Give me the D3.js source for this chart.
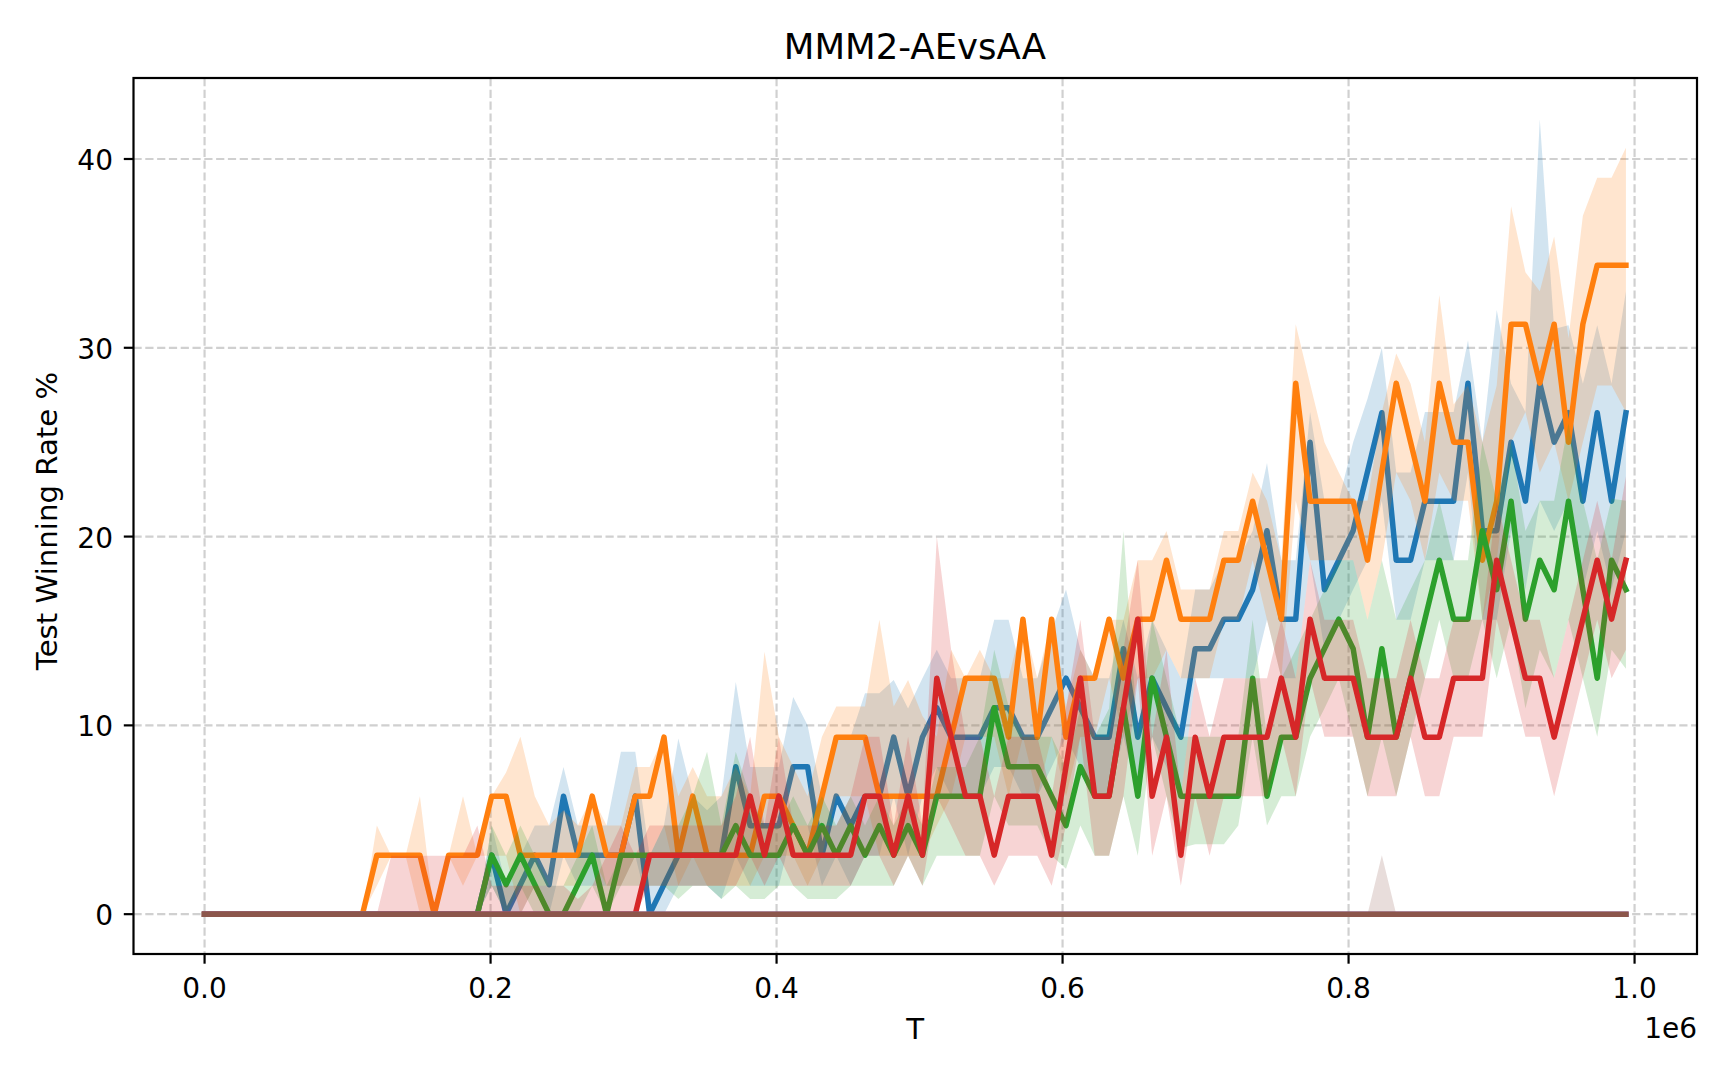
<!DOCTYPE html>
<html>
<head>
<meta charset="utf-8">
<script src="https://cdn.jsdelivr.net/npm/d3@7"></script>
<style>
  html, body { margin: 0; padding: 0; background: #ffffff; }
  svg { display: block; font-family: "DejaVu Sans", sans-serif; }
</style>
</head>
<body>
<svg id="chart" width="1728" height="1080"></svg>
<script>
// ---------------- DATA ----------------
const title = "MMM2-AEvsAA";
const xLabel = "T";
const yLabel = "Test Winning Rate %";
const xOffsetText = "1e6";
const xTickValues = [0, 200000, 400000, 600000, 800000, 1000000];
const xTickLabels = ["0.0", "0.2", "0.4", "0.6", "0.8", "1.0"];
const yTickValues = [0, 10, 20, 30, 40];
const yTickLabels = ["0", "10", "20", "30", "40"];

// evaluation timesteps (one test every ~10k steps)
const steps = d3.range(100).map(i => i * 10040);

const blueMean = [
  0,0,0,0,0,0,0,0,0,0,
  0,0,0,0,0,0,0,0,0,0,
  3.125,0,1.5625,3.125,1.5625,6.25,3.125,3.125,3.125,3.125,
  6.25,0,1.5625,3.125,3.125,3.125,3.125,7.8125,4.6875,4.6875,
  4.6875,7.8125,7.8125,3.125,6.25,4.6875,6.25,6.25,9.375,6.25,
  9.375,10.9375,9.375,9.375,9.375,10.9375,10.9375,9.375,9.375,10.9375,
  12.5,10.9375,9.375,9.375,14.0625,9.375,12.5,10.9375,9.375,14.0625,
  14.0625,15.625,15.625,17.1875,20.3125,15.625,15.625,25,17.1875,18.75,
  20.3125,23.4375,26.5625,18.75,18.75,21.875,21.875,21.875,28.125,20.3125,
  20.3125,25,21.875,28.125,25,26.5625,21.875,26.5625,21.875,26.5625
];
const blueHigh = [
  0,0,0,0,0,0,0,0,0,0,
  0,0,0,0,0,0,0,0,0,0,
  4.7,1.5,3.1,4.7,4.7,7.8,4.7,4.7,4.7,8.6,
  8.6,3.1,4.7,9.3,6.25,5.5,6.25,12.3,7.8,7.8,
  7.8,11.5,10,6.25,9.4,9.4,11.7,11.7,12.4,10.9,
  12.5,14,12.5,12.5,12.5,15.6,15.6,12.5,12.5,15,
  17.2,14,12.5,12.5,15.6,12.5,15.6,14,12.5,17.2,
  17.2,18.75,18.75,20.3,23.9,18.75,18.75,26.6,21.9,21.9,
  25,27.3,30,23.4,23.4,26.6,26.6,26.6,30.4,25,
  32,28.1,26.6,42.1,31,31.2,28.1,31.2,28.1,33
];
const blueLow = [
  0,0,0,0,0,0,0,0,0,0,
  0,0,0,0,0,0,0,0,0,0,
  1.5,0,0,1.5,0,3.1,1.5,1.5,1.5,1.5,
  3.1,0,0,1.5,1.5,1.5,0.8,3.1,1.5,1.5,
  1.5,4.7,4.7,1.5,3.1,1.5,3.1,3.1,6.25,3.1,
  6.25,7.8,6.25,6.25,6.25,7.8,7.8,6.25,6.25,7.8,
  9.4,7.8,6.25,6.25,9.4,6.25,9.4,7.8,6.25,12.5,
  12.5,12.5,12.5,12.5,15.6,12.5,12.5,18.75,14,15.6,
  17.2,18.75,21.9,15.6,15.6,18.75,18.75,18.75,23.4,15.6,
  15.6,20.3,17.2,21.9,20.3,21.9,17.2,20.3,17.2,20.3
];

const orangeMean = [
  0,0,0,0,0,0,0,0,0,0,
  0,0,3.125,3.125,3.125,3.125,0,3.125,3.125,3.125,
  6.25,6.25,3.125,3.125,3.125,3.125,3.125,6.25,3.125,3.125,
  6.25,6.25,9.375,3.125,6.25,3.125,3.125,3.125,3.125,6.25,
  6.25,4.6875,3.125,6.25,9.375,9.375,9.375,6.25,6.25,6.25,
  6.25,6.25,9.375,12.5,12.5,12.5,9.375,15.625,9.375,15.625,
  9.375,12.5,12.5,15.625,12.5,15.625,15.625,18.75,15.625,15.625,
  15.625,18.75,18.75,21.875,18.75,15.625,28.125,21.875,21.875,21.875,
  21.875,18.75,23.4375,28.125,25,21.875,28.125,25,25,18.75,
  21.875,31.25,31.25,28.125,31.25,25,31.25,34.375,34.375,34.375
];
const orangeHigh = [
  0,0,0,0,0,0,0,0,0,0,
  0,0,4.7,3.1,3.1,6.25,0,3.1,6.25,3.1,
  6.25,7.5,9.4,6.25,4.7,5.5,4.7,6.25,4.7,4.7,
  7.8,7.8,9.4,6.25,7.8,6.25,6.25,7.8,6.25,13.9,
  9.4,7.8,6.25,9.4,11,11,11,15.6,11,12.4,
  10.5,9.4,14,12.5,14,12.5,12.5,15.6,12.5,15.6,
  11,14,12.5,15.6,15.6,18.75,18.75,20.3,17.2,17.2,
  17.2,20.3,20.3,23.4,21.9,18.75,31.25,28.1,25,23.4,
  21.9,21.9,26.6,29.7,28.1,25,32.8,27,28,25,
  28,37.5,34,33,35.9,30.5,37,39,39,40.6
];
const orangeLow = [
  0,0,0,0,0,0,0,0,0,0,
  0,0,1.5,3.1,3.1,0,0,3.1,1.5,3.1,
  3.1,3.1,0,1.5,1.5,1.5,1.5,3.1,1.5,1.5,
  3.1,3.1,4.7,1.5,3.1,1.5,1.5,1.5,1.5,3.1,
  3.1,3.1,1.5,3.1,6.25,6.25,6.25,3.1,3.1,3.1,
  3.1,4.7,6.25,9.4,9.4,9.4,6.25,9.4,6.25,9.4,
  6.25,9.4,9.4,12.5,9.4,12.5,12.5,14,12.5,12.5,
  12.5,15.6,15.6,18.75,15.6,12.5,21.9,18.75,18.75,18.75,
  18.75,15.6,18.75,23.4,21.9,18.75,23.4,21.9,21.9,15.6,
  18.75,25,26.6,23.4,25,21.9,25,28,28,26.6
];

const greenMean = [
  0,0,0,0,0,0,0,0,0,0,
  0,0,0,0,0,0,0,0,0,0,
  3.125,1.5625,3.125,1.5625,0,0,1.5625,3.125,0,3.125,
  3.125,3.125,3.125,3.125,3.125,3.125,3.125,4.6875,3.125,3.125,
  3.125,4.6875,3.125,4.6875,3.125,4.6875,3.125,4.6875,3.125,4.6875,
  3.125,6.25,6.25,6.25,6.25,10.9375,7.8125,7.8125,7.8125,6.25,
  4.6875,7.8125,6.25,6.25,10.9375,6.25,12.5,9.375,6.25,6.25,
  6.25,6.25,6.25,12.5,6.25,9.375,9.375,12.5,14.0625,15.625,
  14.0625,9.375,14.0625,9.375,12.5,15.625,18.75,15.625,15.625,20.3125,
  17.1875,21.875,15.625,18.75,17.1875,21.875,17.1875,12.5,18.75,17.1875
];
const greenHigh = [
  0,0,0,0,0,0,0,0,0,0,
  0,0,0,0,0,0,0,0,0,0,
  4.7,3.1,4.7,3.1,1.5,1.5,3.1,4.7,1.5,3.1,
  3.1,3.1,4.7,4.7,6.25,8.6,4.7,8.6,6.25,4.7,
  4.7,6.25,4.7,6.25,4.7,6.25,4.7,6.25,4.7,6.25,
  4.7,7.8,7.8,7.8,9.4,14,11,9.4,9.4,9.4,
  7.8,10.9,9.4,10.9,20.3,9.4,15.6,12.5,9.4,9.4,
  9.4,9.4,9.4,15.6,9.4,12.5,14,15.6,17.2,18.75,
  18.75,15.6,18.75,15.6,17.2,18.75,21.9,18.75,18.75,25,
  21.9,25,20.3,21.9,21.9,26,21.9,18.75,22,21.9
];
const greenLow = [
  0,0,0,0,0,0,0,0,0,0,
  0,0,0,0,0,0,0,0,0,0,
  1.5,0,1.5,0,0,0,0,1.5,0,1.5,
  1.5,1.5,1.5,0.8,1.5,1.5,0.8,1.5,0.8,0.8,
  1.5,1.5,0.8,0.8,0.8,1.5,1.5,1.5,1.5,3.1,
  1.5,3.1,3.1,3.1,3.1,6.25,4.7,4.7,4.7,3.1,
  2.4,4.7,3.1,3.1,6.25,3.1,9.4,6.25,3.5,3.7,
  3.7,3.7,4.7,9.4,4.7,6.25,6.25,9.4,10.9,12.5,
  9.4,6.25,9.4,6.25,9.4,12.5,15.6,12.5,12.5,15.6,
  12.5,15.6,10.9,14,12.5,15.6,12.5,9.4,14,13
];

const redMean = [
  0,0,0,0,0,0,0,0,0,0,
  0,0,0,0,0,0,0,0,0,0,
  0,0,0,0,0,0,0,0,0,0,
  0,3.125,3.125,3.125,3.125,3.125,3.125,3.125,6.25,3.125,
  6.25,3.125,3.125,3.125,3.125,3.125,6.25,6.25,3.125,6.25,
  3.125,12.5,9.375,6.25,6.25,3.125,6.25,6.25,6.25,3.125,
  7.8125,12.5,6.25,6.25,10.9375,15.625,6.25,9.375,3.125,9.375,
  6.25,9.375,9.375,9.375,9.375,12.5,9.375,15.625,12.5,12.5,
  12.5,9.375,9.375,9.375,12.5,9.375,9.375,12.5,12.5,12.5,
  18.75,15.625,12.5,12.5,9.375,12.5,15.625,18.75,15.625,18.75
];
const redHigh = [
  0,0,0,0,0,0,0,0,0,0,
  0,0,0,3.1,3.1,3.1,3.1,3.1,3.1,4.7,
  1.5,1.5,1.5,1.5,1.5,1.5,0.8,1.5,3.1,4.7,
  3.1,4.7,4.7,4.7,4.7,4.7,4.7,6.25,9.4,4.7,
  9.4,4.7,4.7,4.7,4.7,6.25,9.4,9.4,4.7,9.4,
  4.7,20,14,9.4,9.4,6.25,9.4,9.4,9.4,6.25,
  10.9,15.6,9.4,9.4,14,18.75,9.4,14,6.25,12.5,
  9.4,12.5,12.5,12.5,12.5,15.6,12.5,18.75,15.6,15.6,
  15.6,12.5,12.5,12.5,15.6,12.5,12.5,15.6,15.6,15.6,
  21.9,18.75,15.6,15.6,12.5,15.6,18.75,21.9,18.75,23.2
];
const redLow = [
  0,0,0,0,0,0,0,0,0,0,
  0,0,0,0,0,0,0,0,0,0,
  0,0,0,0,0,0,0,0,0,0,
  0,1.5,1.5,1.5,1.5,1.5,1.5,1.5,3.1,1.5,
  3.1,1.5,1.5,1.5,1.5,1.5,3.1,3.1,1.5,3.1,
  1.5,6.25,4.7,3.1,3.1,1.5,3.1,3.1,3.1,1.5,
  4.7,9.4,3.1,3.1,6.25,12.5,3.1,6.25,1.5,6.25,
  3.1,6.25,6.25,6.25,6.25,9.4,6.25,12.5,9.4,9.4,
  9.4,6.25,6.25,6.25,9.4,6.25,6.25,9.4,9.4,9.4,
  15.6,12.5,9.4,9.4,6.25,9.4,12.5,15.6,12.5,14
];

const purpleMean = new Array(100).fill(0);
const purpleHigh = new Array(100).fill(0);
const purpleLow = new Array(100).fill(0);

const brownMean = new Array(100).fill(0);
const brownHigh = [
  0,0,0,0,0,0,0,0,0,0,
  0,0,0,0,0,0,0,0,0,0,
  0,0,0,0,0,0,0,0,0,0,
  0,0,0,0,0,0,0,0,0,0,
  0,0,0,0,0,0,0,0,0,0,
  0,0,0,0,0,0,0,0,0,0,
  0,0,0,0,0,0,0,0,0,0,
  0,0,0,0,0,0,0,0,0,0,
  0,0,3.125,0,0,0,0,0,0,0,
  0,0,0,0,0,0,0,0,0,0
];
const brownLow = new Array(100).fill(0);

const seriesNames = ["blue", "orange", "green", "red", "purple", "brown"];
const seriesColors = ["#1f77b4", "#ff7f0e", "#2ca02c", "#d62728", "#9467bd", "#8c564b"];
const seriesMeans = [blueMean, orangeMean, greenMean, redMean, purpleMean, brownMean];
const seriesHighs = [blueHigh, orangeHigh, greenHigh, redHigh, purpleHigh, brownHigh];
const seriesLows = [blueLow, orangeLow, greenLow, redLow, purpleLow, brownLow];

const yLimits = [-2.11, 44.29];

// ---------------- LAYOUT ----------------
const W = 1728, H = 1080;
const plot = { left: 133.5, right: 1697, top: 78, bottom: 954 };
const tickFs = 28;
const labelFs = 29.2;
const titleFs = 35.5;

const svg = d3.select("#chart");
svg.append("rect").attr("width", W).attr("height", H).attr("fill", "#ffffff");

const xPad = 0.05 * (d3.max(steps) - d3.min(steps));
const x = d3.scaleLinear()
  .domain([d3.min(steps) - xPad, d3.max(steps) + xPad])
  .range([plot.left, plot.right]);
const y = d3.scaleLinear().domain(yLimits).range([plot.bottom, plot.top]);

// clip
svg.append("defs").append("clipPath").attr("id", "clip")
  .append("rect")
  .attr("x", plot.left).attr("y", plot.top)
  .attr("width", plot.right - plot.left).attr("height", plot.bottom - plot.top);

// grid
const grid = svg.append("g");
grid.selectAll(".gx").data(xTickValues).enter().append("line")
  .attr("x1", d => x(d)).attr("x2", d => x(d))
  .attr("y1", plot.top).attr("y2", plot.bottom)
  .attr("stroke", "#b0b0b0").attr("stroke-opacity", 0.6)
  .attr("stroke-width", 2.2).attr("stroke-dasharray", "8.2,3.6");
grid.selectAll(".gy").data(yTickValues).enter().append("line")
  .attr("x1", plot.left).attr("x2", plot.right)
  .attr("y1", d => y(d)).attr("y2", d => y(d))
  .attr("stroke", "#b0b0b0").attr("stroke-opacity", 0.6)
  .attr("stroke-width", 2.2).attr("stroke-dasharray", "8.2,3.6");

// series
const dataG = svg.append("g").attr("clip-path", "url(#clip)");
seriesNames.forEach((name, k) => {
  const pts = steps.map((t, i) => ({ t, m: seriesMeans[k][i], lo: seriesLows[k][i], hi: seriesHighs[k][i] }));
  const area = d3.area().x(d => x(d.t)).y0(d => y(d.lo)).y1(d => y(d.hi));
  const line = d3.line().x(d => x(d.t)).y(d => y(d.m));
  dataG.append("path").datum(pts).attr("d", area)
    .attr("fill", seriesColors[k]).attr("fill-opacity", 0.2).attr("stroke", "none");
  dataG.append("path").datum(pts).attr("d", line)
    .attr("fill", "none").attr("stroke", seriesColors[k])
    .attr("stroke-width", 5.5).attr("stroke-linejoin", "round").attr("stroke-linecap", "square");
});

// spines
svg.append("rect")
  .attr("x", plot.left).attr("y", plot.top)
  .attr("width", plot.right - plot.left).attr("height", plot.bottom - plot.top)
  .attr("fill", "none").attr("stroke", "#000").attr("stroke-width", 2.2);

// x ticks
const xt = svg.append("g");
xTickValues.forEach((v, i) => {
  xt.append("line").attr("x1", x(v)).attr("x2", x(v))
    .attr("y1", plot.bottom).attr("y2", plot.bottom + 9.7)
    .attr("stroke", "#000").attr("stroke-width", 2.2);
  xt.append("text").attr("x", x(v)).attr("y", plot.bottom + 44.3)
    .attr("text-anchor", "middle").attr("font-size", tickFs).attr("fill", "#000")
    .text(xTickLabels[i]);
});
// y ticks
const yt = svg.append("g");
yTickValues.forEach((v, i) => {
  yt.append("line").attr("x1", plot.left - 9.7).attr("x2", plot.left)
    .attr("y1", y(v)).attr("y2", y(v))
    .attr("stroke", "#000").attr("stroke-width", 2.2);
  yt.append("text").attr("x", plot.left - 20.5).attr("y", y(v) + 11)
    .attr("text-anchor", "end").attr("font-size", tickFs).attr("fill", "#000")
    .text(yTickLabels[i]);
});

// labels
svg.append("text").attr("x", 915).attr("y", 59.3)
  .attr("text-anchor", "middle").attr("font-size", titleFs).attr("fill", "#000").text(title);
svg.append("text").attr("x", (plot.left + plot.right) / 2).attr("y", 1038.5)
  .attr("text-anchor", "middle").attr("font-size", labelFs).attr("fill", "#000").text(xLabel);
svg.append("text").attr("x", plot.right).attr("y", 1038)
  .attr("text-anchor", "end").attr("font-size", tickFs).attr("fill", "#000").text(xOffsetText);
svg.append("text")
  .attr("transform", `translate(57,521) rotate(-90)`)
  .attr("text-anchor", "middle").attr("font-size", labelFs).attr("fill", "#000").text(yLabel);
</script>
</body>
</html>
